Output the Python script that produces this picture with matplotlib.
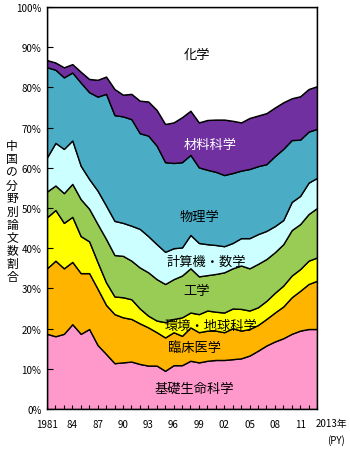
import numpy as np
import matplotlib
matplotlib.use("Agg")
import matplotlib.pyplot as plt

plt.rcParams['font.family'] = ['Noto Sans CJK JP', 'DejaVu Sans']

years = list(range(1981, 2014))

# share of papers by field (%), bottom to top
basic_life = [18.7, 18.1, 18.7, 21.1, 18.7, 19.9, 15.9, 13.7, 11.4, 11.6, 11.8, 11.2, 10.8, 10.8, 9.5, 10.9, 10.9,
              12.0, 11.6, 12.0, 12.2, 12.2, 12.4, 12.6, 13.3, 14.5, 15.8, 16.8, 17.6, 18.7, 19.5, 19.9, 19.9]
clinical = [16.3, 18.8, 16.3, 15.5, 15.1, 13.9, 14.0, 12.2, 12.2, 11.2, 10.6, 10.1, 9.5, 8.3, 8.3, 8.2, 7.3,
            8.3, 7.5, 7.5, 7.3, 6.9, 7.7, 6.9, 6.6, 6.4, 6.6, 7.2, 7.9, 9.1, 9.9, 11.2, 12.0]
env_earth = [12.7, 12.6, 11.3, 11.2, 9.2, 7.9, 6.6, 5.6, 4.4, 5.0, 4.9, 3.7, 2.9, 2.9, 3.8, 3.3, 4.6,
             3.7, 4.5, 5.0, 4.7, 4.9, 4.9, 5.4, 4.6, 4.4, 4.5, 4.9, 5.2, 5.4, 5.4, 5.8, 5.8]
engineering = [6.4, 6.1, 7.4, 8.2, 9.2, 8.1, 9.5, 10.8, 10.3, 10.3, 9.6, 10.2, 10.8, 10.3, 9.5, 9.9, 10.4,
               11.0, 9.4, 8.8, 9.4, 10.0, 10.0, 10.8, 10.5, 10.8, 10.4, 10.1, 10.3, 11.3, 11.2, 11.6, 12.3]
comp_math = [8.5, 10.6, 11.0, 10.8, 8.3, 7.4, 8.3, 8.3, 8.5, 8.2, 8.7, 9.6, 9.0, 8.7, 8.0, 7.7, 7.0,
             8.3, 8.3, 7.7, 7.2, 6.5, 6.3, 6.8, 7.5, 7.4, 7.0, 6.5, 6.0, 7.0, 7.0, 7.8, 7.5]
physics = [22.4, 18.2, 17.8, 16.9, 20.7, 21.6, 23.4, 27.8, 26.3, 26.5, 26.5, 23.8, 25.0, 24.5, 22.3, 21.2, 21.2,
           19.9, 18.8, 18.5, 18.2, 17.7, 17.4, 16.8, 17.2, 16.9, 16.6, 17.4, 17.7, 15.4, 14.0, 12.7, 12.2]
materials = [1.8, 1.8, 2.5, 2.1, 2.7, 3.3, 4.2, 4.3, 6.5, 5.4, 6.3, 8.1, 8.5, 8.9, 9.5, 10.1, 11.2,
             11.0, 11.2, 12.4, 13.0, 13.8, 13.0, 12.0, 12.7, 12.6, 12.7, 12.1, 11.6, 10.4, 10.8, 10.6, 10.6]
chemistry = [13.2, 13.8, 15.0, 14.2, 16.1, 17.9, 18.1, 17.3, 20.4, 21.8, 21.6, 23.3, 23.5, 25.6, 29.1, 28.7, 27.4,
             25.8, 28.7, 28.1, 28.0, 28.0, 28.3, 28.7, 27.6, 27.0, 26.4, 25.0, 23.7, 22.7, 22.2, 20.4, 19.7]

labels = ['基礎生命科学', '臨床医学', '環境・地球科学', '工学', '計算機・数学', '物理学', '材料科学', '化学']
colors = ['#FF99CC', '#FFB400', '#FFFF00', '#99CC55', '#CCFFFF', '#4BACC6', '#7030A0', '#FFFFFF']

fig = plt.figure(figsize=(3.5, 4.56), dpi=100)
ax = fig.add_axes([47 / 350, 46 / 456, 270 / 350, 402 / 456])

series = [basic_life, clinical, env_earth, engineering, comp_math, physics, materials, chemistry]
ax.stackplot(years, *series, colors=colors, edgecolor='black', linewidth=1.0)

ax.set_xlim(1981, 2013)
ax.set_ylim(0, 100)

# y axis
ax.set_yticks(range(0, 101, 10))
ax.set_yticklabels([f'{v}%' for v in range(0, 101, 10)], fontsize=7)
ax.tick_params(axis='y', direction='in', length=4, width=0.8, pad=4)

# x axis
ax.set_xticks(list(range(1981, 2012, 3)))
ax.set_xticklabels(['1981'] + [f'{y % 100:02d}' for y in range(1984, 2012, 3)], fontsize=7)
ax.set_xticks(years, minor=True)
ax.tick_params(axis='x', which='both', direction='in', length=3, width=0.8, pad=7)
ax.text(2012.8, -3.6, '2013年', fontsize=7, ha='left', va='center', clip_on=False)
ax.text(2015.2, -7.6, '(PY)', fontsize=7, ha='center', va='center', clip_on=False)

for s in ax.spines.values():
    s.set_linewidth(1.0)

# vertical y label, one character per line
ylab = '中国の分野別論文数割合'
fig.text(12 / 350, 1 - 212 / 456, '\n'.join(ylab), fontsize=8.5, ha='center', va='center',
         linespacing=1.0)

# labels inside areas
pos = {
    '化学': (1998.8, 88.3, 'black'),
    '材料科学': (2000.3, 65.9, 'white'),
    '物理学': (1999.1, 47.8, 'black'),
    '計算機・数学': (1999.9, 36.8, 'black'),
    '工学': (1998.7, 29.4, 'black'),
    '環境・地球科学': (2000.4, 20.9, 'black'),
    '臨床医学': (1998.5, 15.2, 'black'),
    '基礎生命科学': (1998.4, 5.2, 'black'),
}
for name, (x, y, c) in pos.items():
    ax.text(x, y, name, fontsize=9.5, color=c, ha='center', va='center')

fig.savefig('out.png', dpi=100)
